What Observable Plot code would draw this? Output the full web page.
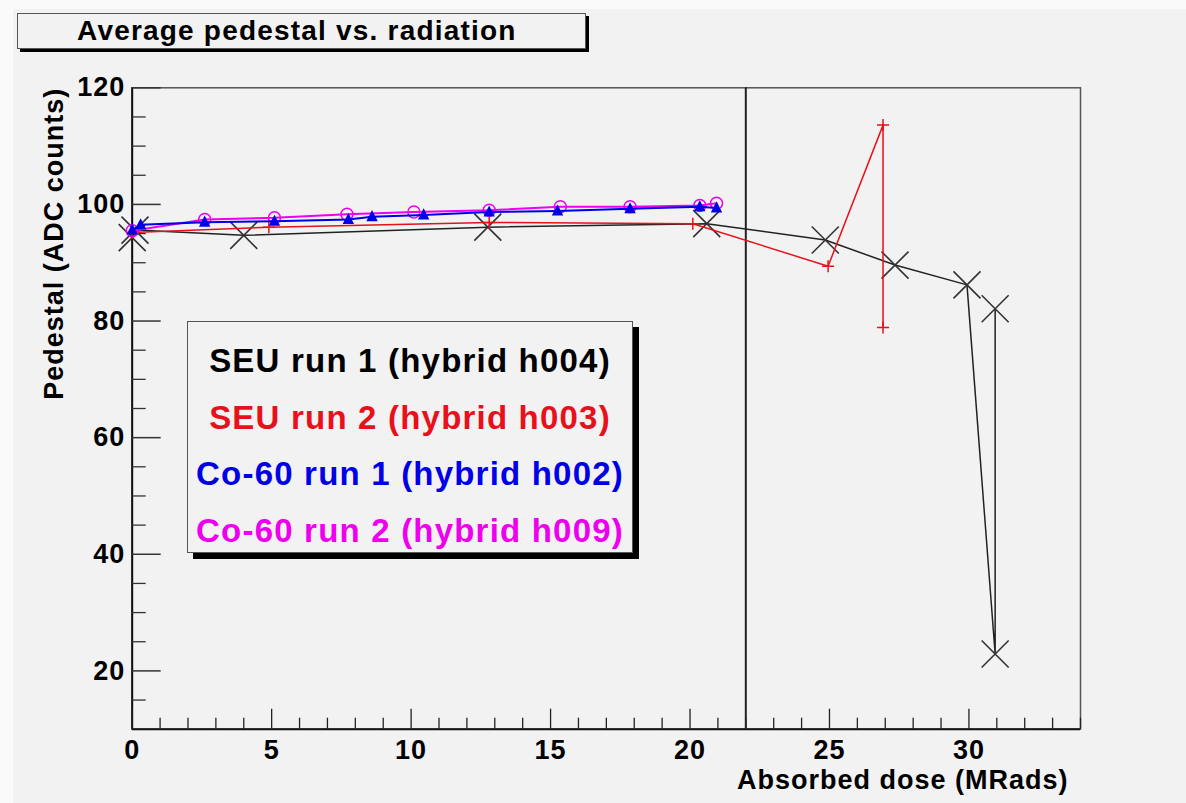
<!DOCTYPE html>
<html>
<head>
<meta charset="utf-8">
<script src="https://cdn.jsdelivr.net/npm/d3@7"></script>
<script src="https://cdn.jsdelivr.net/npm/@observablehq/plot@0.6"></script>
<style>
  body { margin: 0; background: #fafafa; }
  #page { position: relative; width: 1186px; height: 803px; overflow: hidden;
          font-family: "Liberation Sans", Arial, Helvetica, sans-serif; }
  #canvas { position: absolute; left: 13px; top: 9px; right: 0; bottom: 0; background: #f2f2f2; }
  #chart { position: absolute; left: 0; top: 0; }
  #chart svg text { letter-spacing: 1px; }
  .title { position: absolute; left: 17px; top: 13px; width: 569px; height: 36px;
           border: 1px solid #555; background: #f2f2f2; box-shadow: 3px 3px 0 #000;
           box-sizing: border-box; font-weight: bold; font-size: 28px; letter-spacing: 1.2px;
           line-height: 34px; padding-left: 59px; color: #000; white-space: nowrap; }
  .legend { position: absolute; left: 187px; top: 321px; width: 446px; height: 232px;
            border: 1px solid #555; background: #f2f2f2; box-shadow: 6px 6px 0 #000;
            box-sizing: border-box; font-weight: bold; font-size: 33px; letter-spacing: 1.2px;
            text-align: center; padding-top: 11px; white-space: nowrap; }
  .legend div { height: 56.7px; line-height: 56.7px; }
</style>
</head>
<body>
<div id="page">
  <div id="canvas"></div>
  <div id="chart"></div>
  <div class="title" id="title"></div>
  <div class="legend" id="legend"></div>
</div>
<script>
// Average pedestal per hybrid as a function of absorbed dose.
const titleText = "Average pedestal vs. radiation";
const xLabel = "Absorbed dose (MRads)";
const yLabel = "Pedestal (ADC counts)";

const seriesNames = [
  "SEU run 1 (hybrid h004)",
  "SEU run 2 (hybrid h003)",
  "Co-60 run 1 (hybrid h002)",
  "Co-60 run 2 (hybrid h009)"
];
const seriesColors = ["#000000", "#e8101a", "#0000e6", "#ee00ee"];

// SEU run 1 (h004)
const seu1Dose = [0, 0.1, 4.0, 12.75, 20.6, 24.85, 27.35, 29.93, 30.94, 30.94];
const seu1Ped  = [94.3, 95.6, 94.7, 96.1, 96.7, 93.9, 89.6, 86.2, 22.9, 82.1];
// SEU run 2 (h003)
const seu2Dose = [0, 4.9, 12.8, 20.1, 24.95, 26.92, 26.92];
const seu2Ped  = [95.2, 96.1, 96.9, 96.7, 89.4, 113.6, 78.9];
// Co-60 run 1 (h002)
const co1Dose = [0, 0.3, 2.6, 5.1, 7.75, 8.6, 10.45, 12.8, 15.25, 17.85, 20.35, 20.95];
const co1Ped  = [95.6, 96.5, 96.95, 97.1, 97.4, 97.9, 98.2, 98.7, 98.85, 99.25, 99.6, 99.4];
// Co-60 run 2 (h009)
const co2Dose = [0, 2.6, 5.1, 7.7, 10.1, 12.8, 15.35, 17.85, 20.35, 20.95];
const co2Ped  = [95.5, 97.4, 97.7, 98.3, 98.7, 99.0, 99.6, 99.6, 99.8, 100.2];

// dose where the irradiation setup changed
const doseMarker = [22];

const xDomain = [0, 34];
const yDomain = [10, 120];
const xMajor = [0, 5, 10, 15, 20, 25, 30];
const xMinor = d3.range(1, 35).filter(v => v % 5 !== 0);
const yMajor = [20, 40, 60, 80, 100, 120];
const yMinor = d3.range(15, 120, 5).filter(v => v % 20 !== 0);

const W = 1186, H = 803;
const mLeft = 131.7, mRight = 106, mTop = 87.3, mBottom = 74.3;
const frameW = W - mLeft - mRight, frameH = H - mTop - mBottom;

const rows = (xs, ys) => xs.map((x, i) => ({dose: x, ped: ys[i]}));
const seu1 = rows(seu1Dose, seu1Ped);
const seu2 = rows(seu2Dose, seu2Ped);
const co1 = rows(co1Dose, co1Ped);
const co2 = rows(co2Dose, co2Ped);

// marker shapes
const timesSym = {draw(ctx, size) {
  const r = Math.sqrt(size / Math.PI);
  ctx.moveTo(-r, -r); ctx.lineTo(r, r); ctx.moveTo(-r, r); ctx.lineTo(r, -r);
}};
const plusSym = {draw(ctx, size) {
  const r = Math.sqrt(size / Math.PI);
  ctx.moveTo(-r, 0); ctx.lineTo(r, 0); ctx.moveTo(0, -r); ctx.lineTo(0, r);
}};
const triSym = {draw(ctx, size) {
  const r = Math.sqrt(size / Math.PI);
  ctx.moveTo(0, -r * 1.1); ctx.lineTo(r * 0.95, r * 0.75); ctx.lineTo(-r * 0.95, r * 0.75); ctx.closePath();
}};

const bold = {fontWeight: "bold", fill: "#000", fontFamily: "Liberation Sans, Arial, sans-serif"};

const chart = Plot.plot({
  width: W, height: H,
  marginLeft: mLeft, marginRight: mRight, marginTop: mTop, marginBottom: mBottom,
  style: {background: "transparent", overflow: "visible"},
  x: {domain: xDomain, axis: null},
  y: {domain: yDomain, axis: null},
  marks: [
    Plot.frame({stroke: "#555", strokeWidth: 1.5}),
    Plot.ruleX([xDomain[0]], {x: d => d, stroke: "#111", strokeWidth: 2}),
    Plot.ruleY([yDomain[0]], {y: d => d, stroke: "#111", strokeWidth: 2}),
    Plot.tickX(xMinor, {x: d => d, insetTop: frameH - 11, stroke: "#222", strokeWidth: 1.3}),
    Plot.tickX(xMajor, {x: d => d, insetTop: frameH - 20, stroke: "#222", strokeWidth: 1.3}),
    Plot.tickY(yMinor, {y: d => d, insetRight: frameW - 14, stroke: "#333", strokeWidth: 1.3}),
    Plot.tickY(yMajor, {y: d => d, insetRight: frameW - 29, stroke: "#333", strokeWidth: 1.5}),
    Plot.ruleX(doseMarker, {x: d => d, stroke: "#222", strokeWidth: 2}),

    Plot.text(xMajor, {x: d => d, text: d => String(d), frameAnchor: "bottom", lineAnchor: "top",
      dy: 11, fontSize: 27, ...bold}),
    Plot.text(yMajor, {y: d => d, text: d => String(d), frameAnchor: "left", textAnchor: "end",
      dx: -7, fontSize: 27, ...bold}),
    Plot.text([xLabel], {text: d => d, frameAnchor: "bottom-right", textAnchor: "end", lineAnchor: "top",
      dx: -12, dy: 41, fontSize: 27, ...bold}),
    Plot.text([yLabel], {text: d => d, frameAnchor: "top-left", textAnchor: "end", lineAnchor: "top",
      rotate: -90, dx: -88, dy: 0, fontSize: 27, ...bold}),

    // SEU run 1
    Plot.line(seu1, {x: "dose", y: "ped", stroke: "#222", strokeWidth: 1.5}),
    Plot.dot(seu1, {x: "dose", y: "ped", symbol: timesSym, r: 13.5, fill: "none", stroke: "#333", strokeWidth: 1.6}),
    // SEU run 2
    Plot.line(seu2, {x: "dose", y: "ped", stroke: seriesColors[1], strokeWidth: 1.5}),
    Plot.dot(seu2, {x: "dose", y: "ped", symbol: plusSym, r: 6, fill: "none", stroke: seriesColors[1], strokeWidth: 1.5}),
    // Co-60 run 2
    Plot.line(co2, {x: "dose", y: "ped", stroke: seriesColors[3], strokeWidth: 2}),
    Plot.dot(co2, {x: "dose", y: "ped", symbol: "circle", r: 6, fill: "none", stroke: seriesColors[3], strokeWidth: 1.5}),
    // Co-60 run 1
    Plot.line(co1, {x: "dose", y: "ped", stroke: seriesColors[2], strokeWidth: 2}),
    Plot.dot(co1, {x: "dose", y: "ped", symbol: triSym, r: 6, fill: seriesColors[2], stroke: "none"})
  ]
});
document.getElementById("chart").appendChild(chart);

document.getElementById("title").textContent = titleText;
const legend = d3.select("#legend");
legend.selectAll("div").data(seriesNames).join("div")
  .style("color", (d, i) => seriesColors[i])
  .text(d => d);
</script>
</body>
</html>
